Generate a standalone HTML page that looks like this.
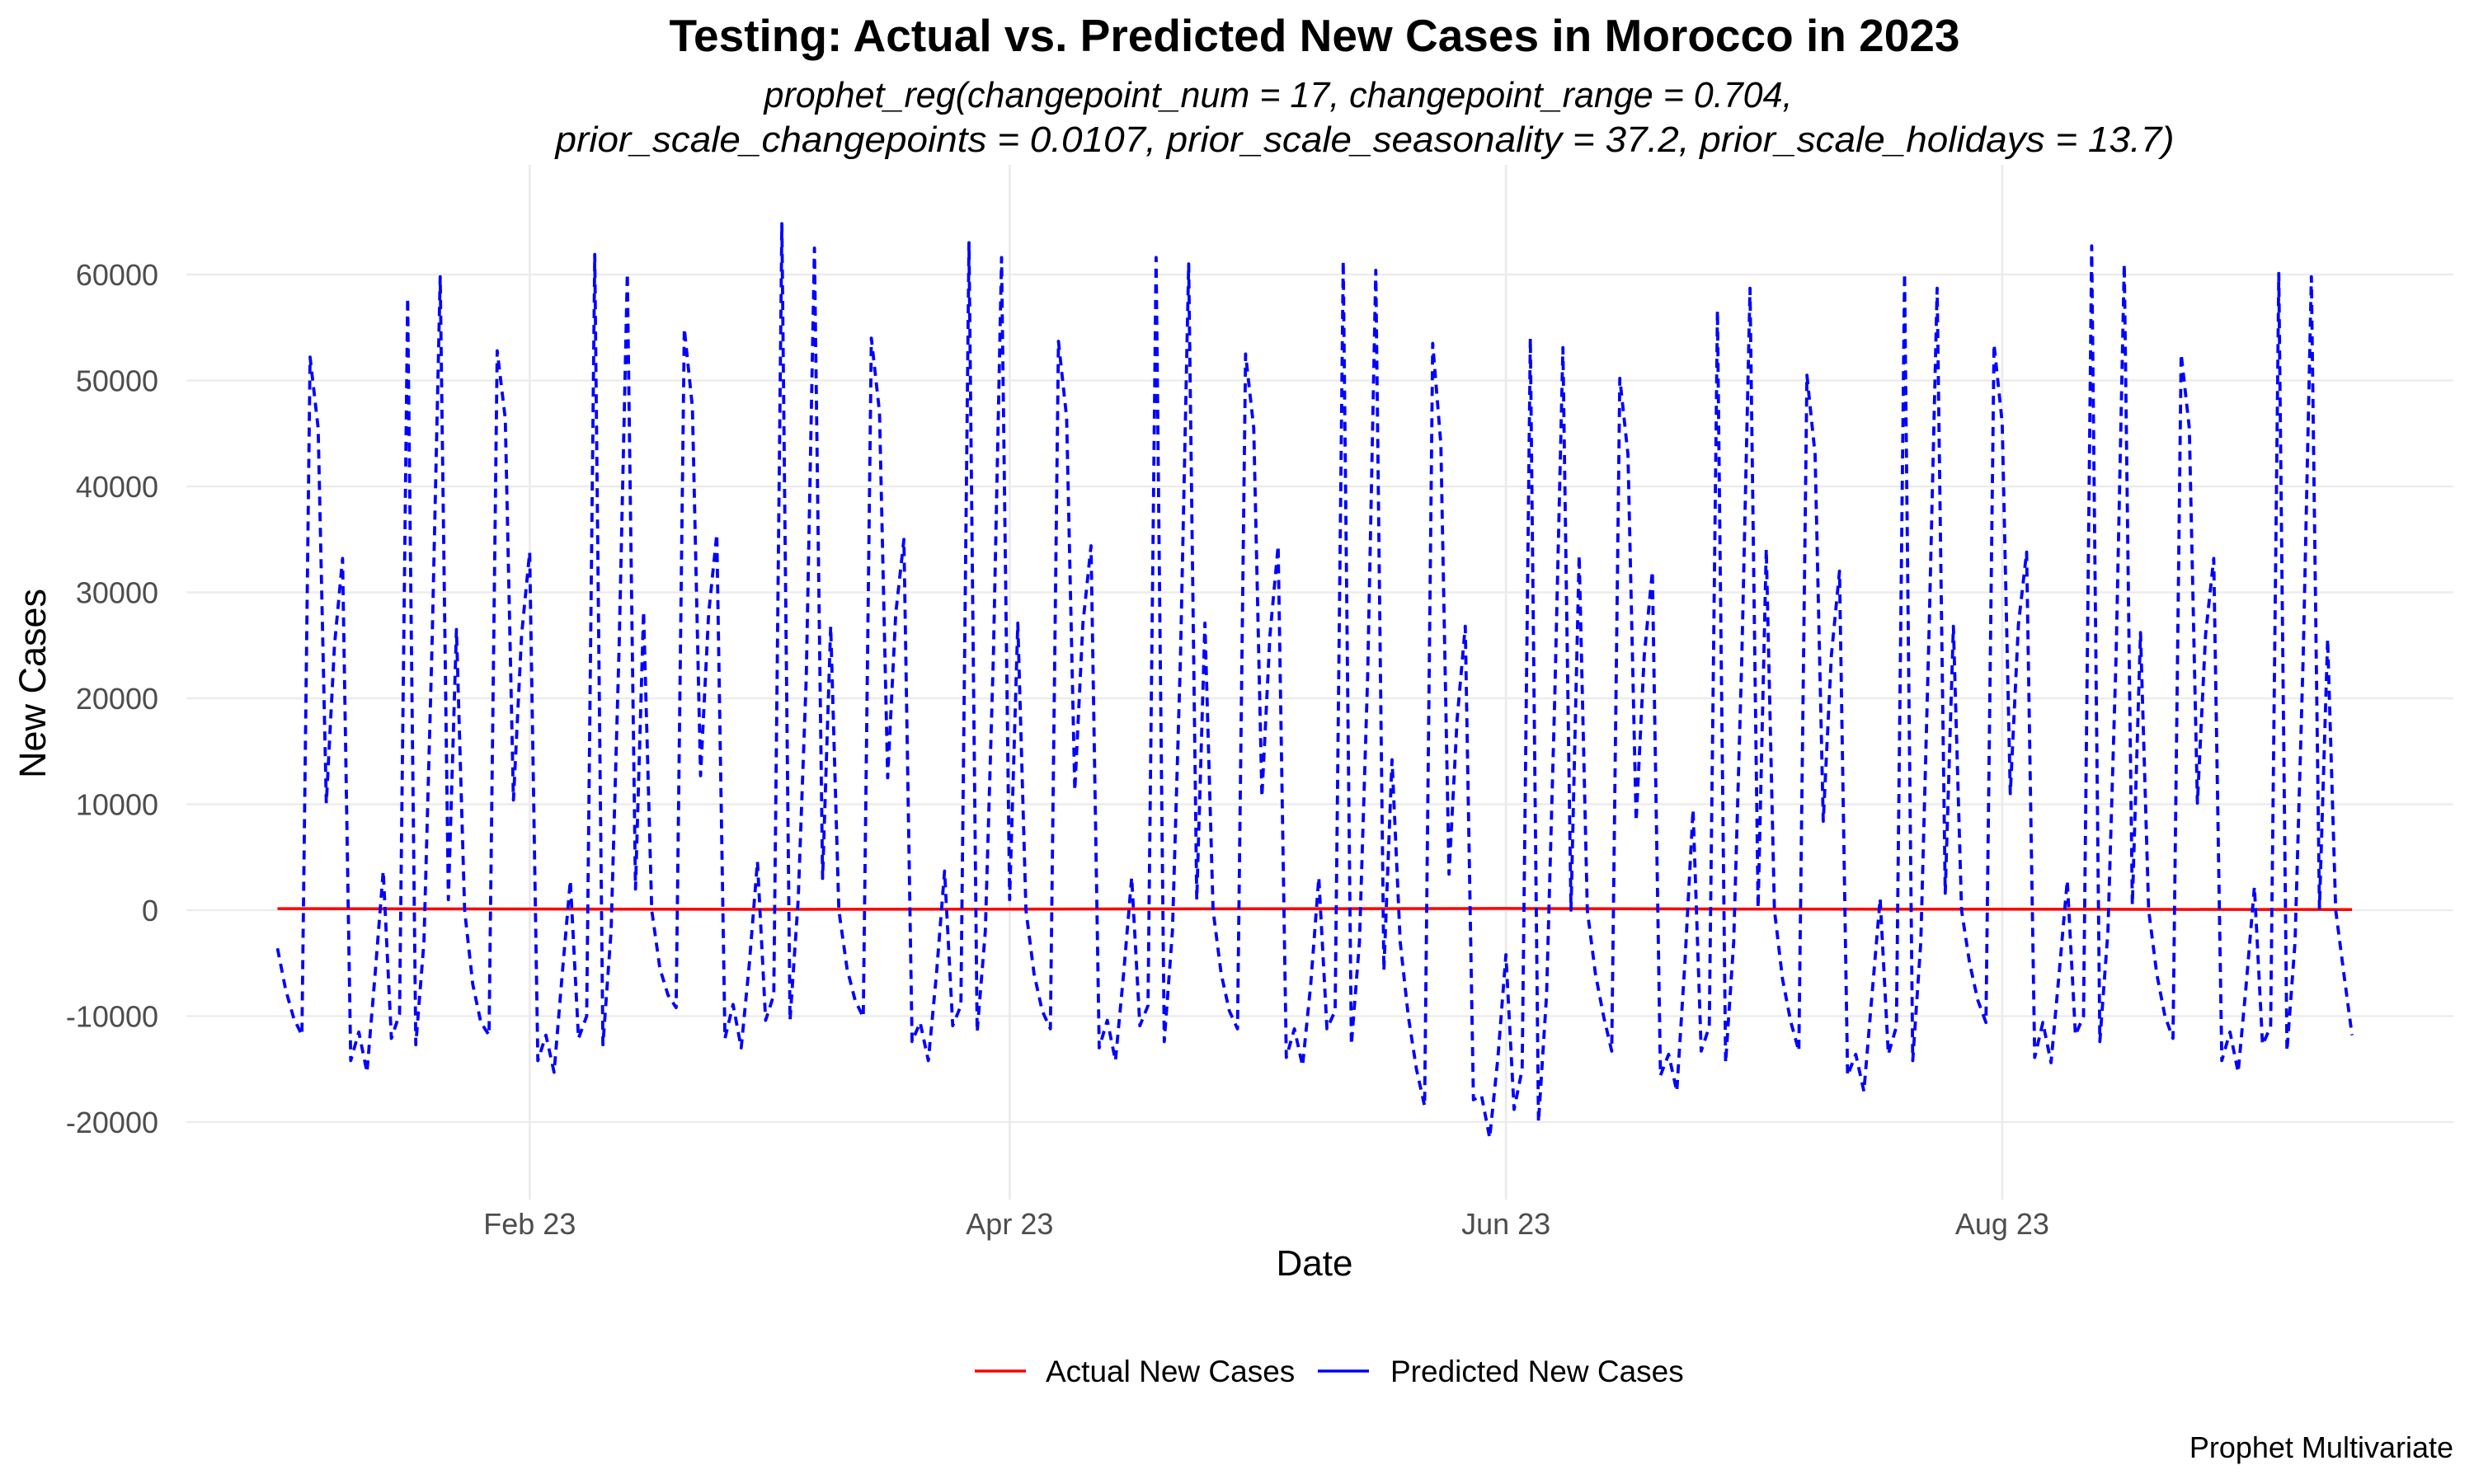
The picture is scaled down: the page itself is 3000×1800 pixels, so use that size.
<!DOCTYPE html>
<html><head><meta charset="utf-8"><style>
html,body{margin:0;padding:0;background:#fff;}
svg{display:block;font-family:"Liberation Sans",Arial,sans-serif;}
</style></head><body>
<svg id="chart" width="3000" height="1800" viewBox="0 0 3000 1800" xmlns="http://www.w3.org/2000/svg">
<text x="1594" y="62" text-anchor="middle" font-size="55" font-weight="bold" fill="#000" textLength="1565" lengthAdjust="spacingAndGlyphs">Testing: Actual vs. Predicted New Cases in Morocco in 2023</text>
<text x="1550" y="130" text-anchor="middle" font-size="44" font-style="italic" fill="#000" textLength="1247" lengthAdjust="spacingAndGlyphs">prophet_reg(changepoint_num = 17, changepoint_range = 0.704,</text>
<text x="1655" y="184" text-anchor="middle" font-size="44" font-style="italic" fill="#000" textLength="1963" lengthAdjust="spacingAndGlyphs">prior_scale_changepoints = 0.0107, prior_scale_seasonality = 37.2, prior_scale_holidays = 13.7)</text>
<g id="grid"></g>
<g id="yticks"></g>
<g id="xticks"></g>
<g id="series"></g>
<text transform="translate(55,829) rotate(-90)" text-anchor="middle" font-size="45" fill="#000">New Cases</text>
<text x="1594" y="1547" text-anchor="middle" font-size="44" fill="#000">Date</text>
<g>
<line x1="1182" y1="1663" x2="1244" y2="1663" stroke="#ff0000" stroke-width="3.5"/>
<text x="1268" y="1676" font-size="37" fill="#000">Actual New Cases</text>
<line x1="1598" y1="1663" x2="1660" y2="1663" stroke="#0000ff" stroke-width="3.5"/>
<text x="1686" y="1676" font-size="37" fill="#000">Predicted New Cases</text>
</g>
<text x="2975" y="1768" text-anchor="end" font-size="36" fill="#000">Prophet Multivariate</text>
</svg>
<script>
// Predicted values (thousands), one per day starting 2023-01-01
const predictedK = [
-3.6,-7.5,-10.2,-11.8,
52.2,45.5,10.1,25,33.2,-14.2,-11.5,-15.3,-6,3.7,-12.1,-9.8,57.8,-12.7,-3,25,59.8,1.0,26.5,0,-7,-10.6,-11.8,
52.8,46.4,10.4,26,33.8,-14.2,-11.8,-15.3,-6,2.8,-12.1,-10,61.9,-12.7,-2,25,60.1,2,28.2,0,-5.5,-8,-9.2,
54.9,47.5,12.7,28,35.5,-12.1,-8.9,-13,-5,4.6,-10.4,-8,64.8,-10.4,1,22,62.5,3,26.8,0,-5.5,-8.5,-10.1,
54,47,12.5,28,35,-12.4,-10.6,-14.2,-6,3.7,-10.9,-9,63,-11.5,-2,24,61.6,1,27.1,0,-6,-9.5,-11.2,
53.7,46.5,11.3,27,34.4,-13,-10.4,-14.2,-6,3.1,-10.9,-9,61.6,-12.4,-2,24,61,1,27.1,0,-6,-9.5,-11.2,
52.5,45.5,10.7,26,34.4,-13.9,-11.2,-14.7,-7,3.1,-11.2,-9.5,61.3,-12.7,-3,22,60.4,-5.7,14.2,-3,-10,-15,-18.5,
53.5,44,3.4,18,26.8,-17.9,-17.5,-21.5,-14,-4.2,-18.8,-15,54,-20,-8,20,53.1,0,33.5,0,-6,-10,-13.3,
50.2,43,8.4,24,32,-15.6,-13.6,-17.1,-5,9.5,-13.3,-11,56.6,-14.4,-3,24,58.7,0.2,34.1,0,-6.5,-10.5,-13.3,
50.5,43,8.4,24,32,-15.6,-13.6,-17.1,-8,1.1,-13.6,-11,60.1,-14.2,-3,26,58.7,1.6,26.8,0,-5,-8.5,-10.6,
53.4,46,11,27,33.8,-13.9,-10.6,-14.4,-6,2.8,-11.8,-10,62.7,-12.4,-2,24,61,0.5,26.2,0,-6,-10,-12.1,
52.5,45.5,10.1,26,33.2,-14.2,-11.5,-15.3,-7,2.2,-12.7,-11,60.1,-13.3,-3,24,59.8,0.2,25.6,0,-6,-11.8
];
// Actual values: day index and cases
const actualDays = [0, 30, 60, 90, 120, 150, 180, 210, 240, 255];
const actualValues = [150, 120, 80, 100, 140, 160, 110, 90, 70, 60];
const yTickValues = [-20000, -10000, 0, 10000, 20000, 30000, 40000, 50000, 60000];
const xTickDays = [31, 90, 151, 212];
const xTickLabels = ["Feb 23", "Apr 23", "Jun 23", "Aug 23"];

const NS = "http://www.w3.org/2000/svg";
const X0 = 336.5, PPD = 9.865;
const Y0 = 1104, PPU = 771 / 60000;
const xScale = d => X0 + d * PPD;
const yScale = v => Y0 - v * PPU;
const PL = 226, PR = 2975, PT = 200, PB = 1455;

function mk(tag, attrs, parent) {
  const e = document.createElementNS(NS, tag);
  for (const k in attrs) e.setAttribute(k, attrs[k]);
  parent.appendChild(e);
  return e;
}
const grid = document.getElementById('grid');
const yt = document.getElementById('yticks');
const xt = document.getElementById('xticks');
const series = document.getElementById('series');

yTickValues.forEach(v => {
  const y = yScale(v);
  const l = mk('line', {x1: PL, x2: PR, y1: y, y2: y, stroke: '#ebebeb', 'stroke-width': 2.2}, grid);
  
  
  const t = mk('text', {x: 192, y: y + 13, 'text-anchor': 'end', 'font-size': 36, fill: '#4d4d4d'}, yt);
  t.textContent = String(v);
  
  
});
xTickDays.forEach((d, i) => {
  const x = xScale(d);
  const l = mk('line', {x1: x, x2: x, y1: PT, y2: PB, stroke: '#ebebeb', 'stroke-width': 2.8}, grid);
  
  
  const t = mk('text', {x: x, y: 1497, 'text-anchor': 'middle', 'font-size': 36, fill: '#4d4d4d'}, xt);
  t.textContent = xTickLabels[i];
  
  
});

const actPts = actualDays.map((d, i) => xScale(d).toFixed(1) + ',' + yScale(actualValues[i]).toFixed(1)).join(' ');
const act = mk('polyline', {points: actPts, fill: 'none', stroke: '#ff0000', 'stroke-width': 3.5}, series);



const predPts = predictedK.map((v, i) => xScale(i).toFixed(1) + ',' + yScale(v * 1000).toFixed(1)).join(' ');
const pred = mk('polyline', {points: predPts, fill: 'none', stroke: '#0000ff', 'stroke-width': 3.8, 'stroke-dasharray': '11 8', 'stroke-linejoin': 'round'}, series);


</script>
</body></html>
